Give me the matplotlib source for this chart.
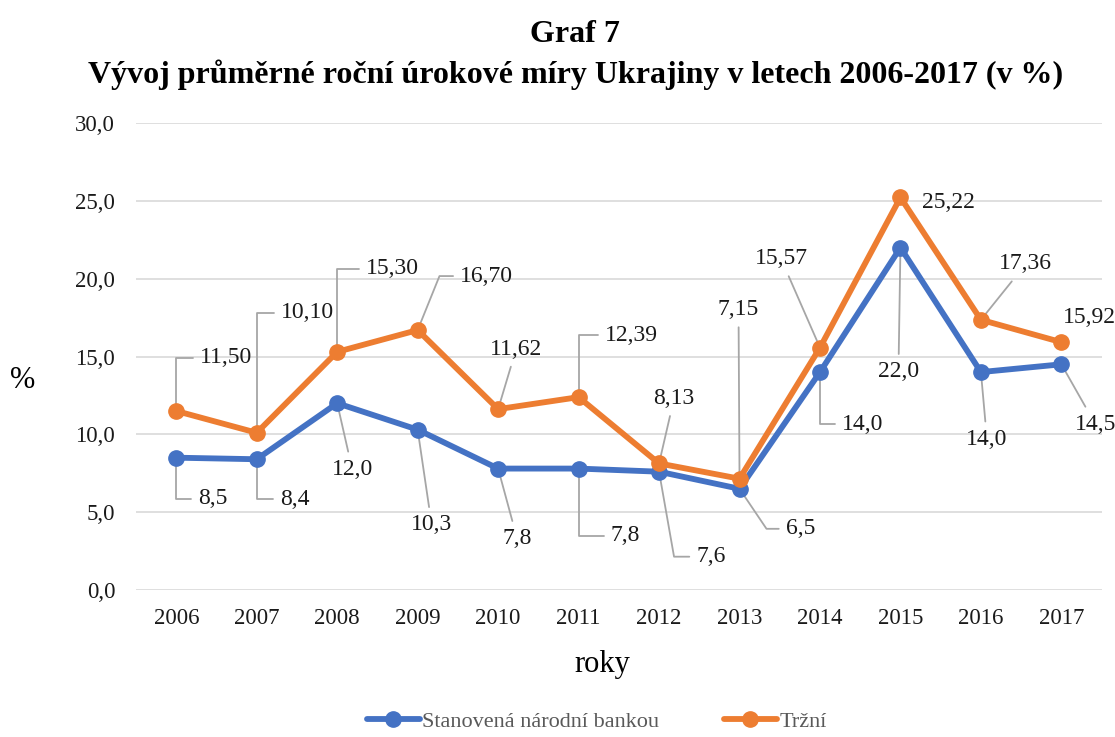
import matplotlib
matplotlib.use("Agg")
import matplotlib.pyplot as plt

years = [2006, 2007, 2008, 2009, 2010, 2011, 2012, 2013, 2014, 2015, 2016, 2017]
narodni = [8.5, 8.4, 12.0, 10.3, 7.8, 7.8, 7.6, 6.5, 14.0, 22.0, 14.0, 14.5]
trzni = [11.50, 10.10, 15.30, 16.70, 11.62, 12.39, 8.13, 7.15, 15.57, 25.22, 17.36, 15.92]
narodni_labels = ["8,5", "8,4", "12,0", "10,3", "7,8", "7,8", "7,6", "6,5", "14,0", "22,0", "14,0", "14,5"]
trzni_labels = ["11,50", "10,10", "15,30", "16,70", "11,62", "12,39", "8,13", "7,15",
                "15,57", "25,22", "17,36", "15,92"]

# label offsets from the point (pixels, +y up)
trzni_off = [(50, 53), (51, 120), (55, 83), (69, 54), (18, 60), (53, 62),
             (15, 65), (-1, 169), (-39, 89), (48, -5), (45, 56), (28, 25)]
narodni_off = [(37, -41), (38, -40), (15, -66), (14, -95), (19, -70), (47, -67),
               (52, -85), (61, -40), (43, -52), (-2, -124), (6, -67), (34, -60)]
# leader lines: number = angle of the segment at the point (with horizontal stub at the label),
# "line" = straight, None = no leader
trzni_lead = [90, 90, 90, 68, "line", 90, "line", "line", "line", None, "line", None]
narodni_lead = [90, 90, "line", "line", "line", 90, -80, -56, 90, "line", "line", "line"]

BLUE = "#4472C4"
ORANGE = "#ED7D31"
LEADER = "#a6a6a6"

plt.rcParams["font.family"] = ["Liberation Serif", "DejaVu Serif"]

fig = plt.figure(figsize=(11.15, 7.37), dpi=100)
ax = fig.add_axes([0.122, 0.1995, 0.866, 0.6335])

x = list(range(len(years)))
ax.plot(x, narodni, color=BLUE, lw=4.2, marker="o", ms=11, label="Stanovená národní bankou",
        zorder=3, solid_capstyle="round")
ax.plot(x, trzni, color=ORANGE, lw=4.2, marker="o", ms=11, label="Tržní", zorder=4,
        solid_capstyle="round")


def add_labels(vals, labels, offs, leads):
    for i, (v, lab, (dx, dy), lead) in enumerate(zip(vals, labels, offs, leads)):
        kw = {}
        if lead == "line":
            kw["arrowprops"] = dict(arrowstyle="-", color=LEADER, lw=1.3, shrinkA=0, shrinkB=0)
        elif lead is not None:
            kw["arrowprops"] = dict(arrowstyle="-", color=LEADER, lw=1.3, shrinkA=0, shrinkB=0,
                                    connectionstyle=f"angle,angleA=0,angleB={lead},rad=0")
        ax.annotate(lab, xy=(i, v), xytext=(dx, dy), textcoords="offset pixels",
                    ha="center", va="center", fontsize=17, color="#1a1a1a", zorder=2,
                    bbox=dict(boxstyle="square,pad=0.3", fc="none", ec="none"), **kw)


add_labels(trzni, trzni_labels, trzni_off, trzni_lead)
add_labels(narodni, narodni_labels, narodni_off, narodni_lead)

yticks = [0, 5, 10, 15, 20, 25, 30]
ax.set_xlim(-0.5, len(years) - 0.5)
ax.set_ylim(0, 30)
ax.set_yticks(yticks)
ax.set_yticklabels([f"{t:.1f}".replace(".", ",") for t in yticks])
ax.set_xticks(x)
ax.set_xticklabels([str(y) for y in years])
ax.tick_params(axis="both", length=0, labelsize=16.5, colors="#1a1a1a")
ax.tick_params(axis="x", pad=13)
ax.tick_params(axis="y", pad=15)
ax.grid(axis="y", color="#d9d9d9", lw=1.2)
ax.set_axisbelow(True)
for s in ax.spines.values():
    s.set_visible(False)

fig.text(0.516, 0.953, "Graf 7", ha="center", va="center", fontsize=23, fontweight="bold")
fig.text(0.516, 0.898, "Vývoj průměrné roční úrokové míry Ukrajiny v letech 2006-2017 (v %)",
         ha="center", va="center", fontsize=23, fontweight="bold")
fig.text(0.009, 0.484, "%", ha="left", va="center", fontsize=22)
fig.text(0.54, 0.099, "roky", ha="center", va="center", fontsize=22)

fig.legend(loc="center", bbox_to_anchor=(0.535, 0.021), ncol=2, frameon=False,
           fontsize=16, labelcolor="#595959", columnspacing=2.9, handlelength=2.4,
           handletextpad=0.1)

fig.savefig("out.png", dpi=100)
